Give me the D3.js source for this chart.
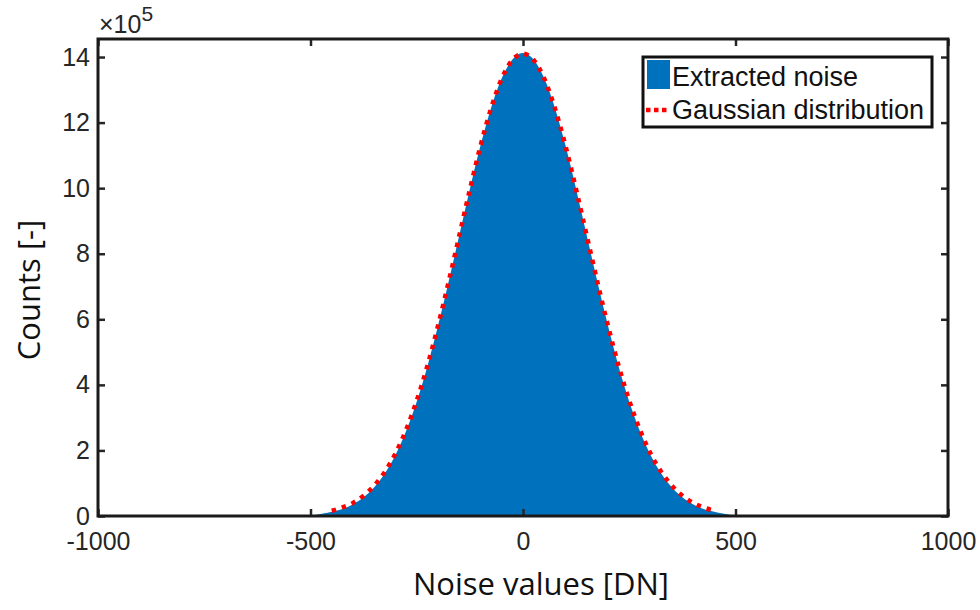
<!DOCTYPE html>
<html>
  <head>
    <meta charset="utf-8">
    <title>Noise histogram</title>
    <style>
      body { margin: 0; background: #fff; }
      .tick text { font-family: "Liberation Sans", Arial, sans-serif; font-size: 25px; fill: #262626; }
      .tick line { stroke: #262626; stroke-width: 2.5; }
      .lbl { font-family: "Open Sans", sans-serif; font-size: 31px; fill: #111; }
      .legend text { font-family: "Liberation Sans", Arial, sans-serif; font-size: 27px; fill: #111; }
    </style>
  </head>
  <body>
    <div id="chart"></div>
    <script src="https://cdn.jsdelivr.net/npm/d3@7"></script>
    <script>
    // histogram counts (x1e5) at bin centres
    var binCenters = [-500, -480, -460, -440, -420, -400, -380, -360, -340, -320, -300,
                      -280, -260, -240, -220, -200, -180, -160, -140, -120, -100,
                      -80, -60, -40, -20, 0, 20, 40, 60, 80, 100,
                      120, 140, 160, 180, 200, 220, 240, 260, 280, 300,
                      320, 340, 360, 380, 400, 420, 440, 460, 480, 500];
    var binCounts = [0.00, 0.05, 0.10, 0.16, 0.24, 0.36, 0.52, 0.74, 1.03, 1.40, 1.86,
                     2.43, 3.11, 3.90, 4.80, 5.80, 6.87, 7.99, 9.13, 10.25, 11.30,
                     12.24, 13.03, 13.62, 13.99, 14.12, 13.99, 13.62, 13.03, 12.24, 11.30,
                     10.25, 9.13, 7.99, 6.87, 5.80, 4.80, 3.90, 3.11, 2.43, 1.86,
                     1.40, 1.03, 0.74, 0.52, 0.36, 0.24, 0.16, 0.10, 0.05, 0.00];

    // fitted gaussian (x1e5)
    var fitX = [-450, -425, -400, -375, -350, -325, -300, -275, -250, -225, -200,
                -175, -150, -125, -100, -75, -50, -25, 0, 25, 50, 75, 100,
                125, 150, 175, 200, 225, 250, 275, 300, 325, 350, 375, 400, 425, 450];
    var fitY = [0.16, 0.26, 0.40, 0.62, 0.93, 1.35, 1.91, 2.63, 3.52, 4.58, 5.80,
                7.14, 8.55, 9.96, 11.29, 12.44, 13.34, 13.91, 14.10, 13.91, 13.34, 12.44, 11.29,
                9.96, 8.55, 7.14, 5.80, 4.58, 3.52, 2.63, 1.91, 1.35, 0.93, 0.62, 0.40, 0.26, 0.16];

    var xTicks = [-1000, -500, 0, 500, 1000];
    var yTicks = [0, 2, 4, 6, 8, 10, 12, 14];
    var legendLabels = ['Extracted noise', 'Gaussian distribution'];

    function drawChart() {
      var width = 980, height = 610;
      var m = { left: 98, right: 948, top: 39, bottom: 516 };
      var blue = '#0072BD';

      var svg = d3.select('#chart')
        .append('svg')
        .attr('width', width)
        .attr('height', height);

      var x = d3.scaleLinear().domain([-1000, 1000]).range([m.left, m.right]);
      var y = d3.scaleLinear().domain([0, 14.55]).range([m.bottom, m.top]);

      var hist = binCenters.map(function(c, i) { return [c, binCounts[i]]; });
      var fit = fitX.map(function(c, i) { return [c, fitY[i]]; });

      // histogram area
      svg.append('path')
        .datum(hist)
        .attr('fill', blue)
        .attr('d', d3.area()
          .curve(d3.curveMonotoneX)
          .x(function(d) { return x(d[0]); })
          .y0(y(0))
          .y1(function(d) { return y(d[1]); }));

      // gaussian dotted line
      svg.append('path')
        .datum(fit)
        .attr('fill', 'none')
        .attr('stroke', '#ff0000')
        .attr('stroke-width', 4.5)
        .attr('stroke-dasharray', '4.5,6')
        .attr('d', d3.line()
          .curve(d3.curveMonotoneX)
          .x(function(d) { return x(d[0]); })
          .y(function(d) { return y(d[1]); }));

      // axes, ticks pointing inward
      var gx = svg.append('g')
        .attr('transform', 'translate(0,' + m.bottom + ')')
        .call(d3.axisBottom(x).tickValues(xTicks).tickSize(-7).tickPadding(16)
          .tickFormat(function(d) { return String(d); }));
      var gy = svg.append('g')
        .attr('transform', 'translate(' + m.left + ',0)')
        .call(d3.axisLeft(y).tickValues(yTicks).tickSize(-7).tickPadding(8)
          .tickFormat(function(d) { return String(d); }));
      var gt = svg.append('g')
        .attr('transform', 'translate(0,' + m.top + ')')
        .call(d3.axisTop(x).tickValues(xTicks).tickSize(-7).tickFormat(''));
      var gr = svg.append('g')
        .attr('transform', 'translate(' + m.right + ',0)')
        .call(d3.axisRight(y).tickValues(yTicks).tickSize(-7).tickFormat(''));

      [gx, gy, gt, gr].forEach(function(g) {
        g.attr('font-size', null).attr('font-family', null);
        g.select('.domain').remove();
      });

      svg.append('rect')
        .attr('x', m.left).attr('y', m.top)
        .attr('width', m.right - m.left).attr('height', m.bottom - m.top)
        .attr('fill', 'none')
        .attr('stroke', '#1a1a1a')
        .attr('stroke-width', 3);

      // exponent label
      var expo = svg.append('text')
        .attr('x', 99).attr('y', 33)
        .style('font-family', '"Liberation Sans", Arial, sans-serif')
        .style('font-size', '25px')
        .style('fill', '#262626');
      expo.append('tspan').text('\u00d710');
      expo.append('tspan').attr('dy', -12).style('font-size', '21px').text('5');

      // axis titles
      svg.append('text')
        .attr('class', 'lbl')
        .attr('x', 541).attr('y', 595)
        .attr('text-anchor', 'middle')
        .text('Noise values [DN]');
      svg.append('text')
        .attr('class', 'lbl')
        .attr('transform', 'translate(40,290) rotate(-90)')
        .attr('text-anchor', 'middle')
        .text('Counts [-]');

      // legend
      var legend = svg.append('g').attr('class', 'legend');
      legend.append('rect')
        .attr('x', 643).attr('y', 57)
        .attr('width', 289).attr('height', 70)
        .attr('fill', '#fff')
        .attr('stroke', '#111')
        .attr('stroke-width', 3);
      legend.append('rect')
        .attr('x', 647).attr('y', 60)
        .attr('width', 23).attr('height', 29)
        .attr('fill', blue);
      legend.append('line')
        .attr('x1', 646).attr('x2', 667)
        .attr('y1', 110).attr('y2', 110)
        .attr('stroke', '#ff0000')
        .attr('stroke-width', 4.5)
        .attr('stroke-dasharray', '4.5,3.5');
      legend.selectAll('text.entry')
        .data(legendLabels)
        .enter()
        .append('text')
        .attr('class', 'entry')
        .attr('x', 672)
        .attr('y', function(d, i) { return 86 + i * 33; })
        .text(function(d) { return d; });
    }
    drawChart();
    </script>
  </body>
</html>
